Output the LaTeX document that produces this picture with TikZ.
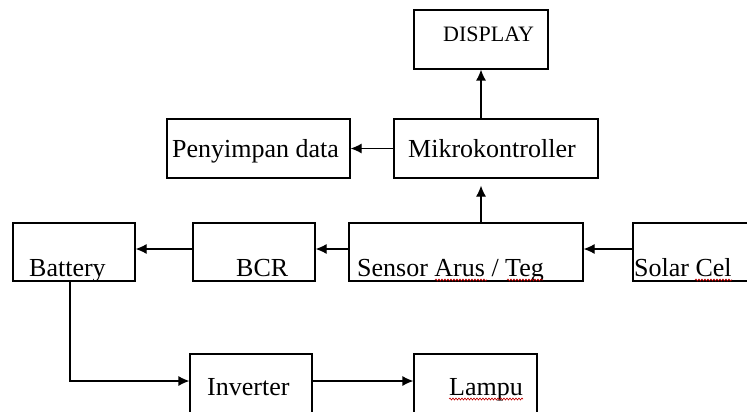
\documentclass[tikz,border=0pt]{standalone}
\usepackage{fontspec}
\setmainfont{Liberation Serif}
\usetikzlibrary{arrows.meta,decorations.pathmorphing}
\tikzstyle{block}=[draw,rectangle,line width=1.2pt,inner sep=0pt]
\tikzstyle{txt}=[anchor=base west,inner sep=0pt,font=\fontsize{26}{30}\selectfont]
\tikzstyle{flow}=[-{Latex[length=11pt,width=10pt]},line width=1.2pt]
\tikzstyle{typo}=[red!75!black,line width=0.6pt,decorate,decoration={snake,amplitude=1pt,segment length=3pt}]

\begin{document}
\begin{tikzpicture}[x=1pt,y=-1pt]
\path[use as bounding box,fill=white] (0,0) rectangle (747,412);
% boxes
\node[block,minimum width=134pt,minimum height=59pt] at (481,39.5) (display) {};
\node[block,minimum width=183pt,minimum height=59pt] at (258.5,148.5) (penyimpan) {};
\node[block,minimum width=204pt,minimum height=59pt] at (496,148.5) (mikro) {};
\node[block,minimum width=122pt,minimum height=58pt] at (74,252) (battery) {};
\node[block,minimum width=122pt,minimum height=58pt] at (254,252) (bcr) {};
\node[block,minimum width=234pt,minimum height=58pt] at (466,252) (sensor) {};
\node[block,minimum width=137pt,minimum height=58pt] at (701.5,252) (solar) {};
\node[block,minimum width=122pt,minimum height=60pt] at (251,384) (inverter) {};
\node[block,minimum width=123pt,minimum height=60pt] at (475.5,384) (lampu) {};
% texts
\node[txt,font=\fontsize{22}{26}\selectfont] at (443,42) (displaytxt) {DISPLAY};
\node[txt] at (172,157) (penyimpantxt) {Penyimpan data};
\node[txt] at (408,157) (mikrotxt) {Mikrokontroller};
\node[txt] at (29,276) (batterytxt) {Battery};
\node[txt] at (236,276) (bcrtxt) {BCR};
\node[txt] at (357,276) (sensortxt) {Sensor Arus / Teg};
\node[txt] at (634,276) (solartxt) {Solar Cel};
\node[txt] at (207,395) (invertertxt) {Inverter};
\node[txt] at (449,395) (lamputxt) {Lampu};
% spelling marks
\draw[typo] (435,280) -- (487,280);
\draw[typo] (507,280) -- (543,280);
\draw[typo] (695,280) -- (732,280);
\draw[typo] (449,399) -- (523,399);
% connectors
\draw[flow] (mikro.north -| display.south) -- (display.south);
\draw[flow] (mikro.west) -- (penyimpan.east);
\draw[flow,shorten >=7pt] (sensor.north -| display.south) -- (mikro.south -| display.south);
\draw[flow] ([yshift=3pt]solar.west) -- ([yshift=3pt]sensor.east);
\draw[flow] ([yshift=3pt]sensor.west) -- ([yshift=3pt]bcr.east);
\draw[flow] ([yshift=3pt]bcr.west) -- ([yshift=3pt]battery.east);
\draw[flow] ([xshift=-4pt]battery.south) |- ([yshift=3pt]inverter.west);
\draw[flow] ([yshift=3pt]inverter.east) -- ([yshift=3pt]lampu.west);
\end{tikzpicture}
\end{document}
